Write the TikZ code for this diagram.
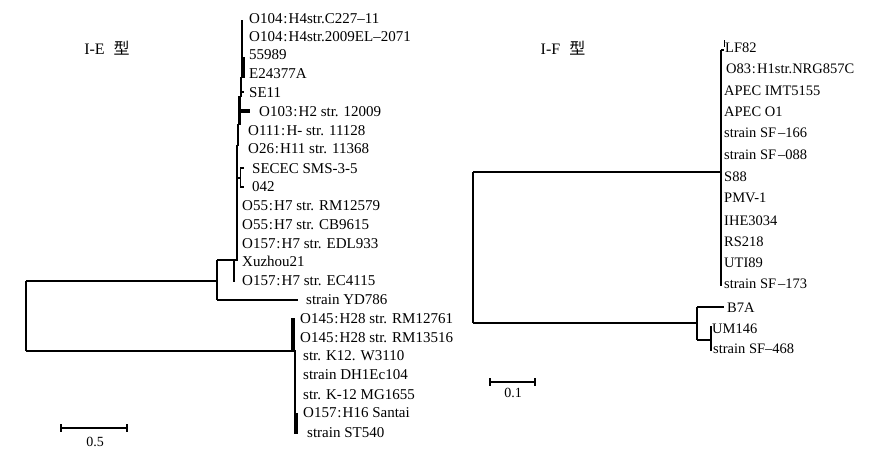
\documentclass[tikz,border=0pt]{standalone}
\usepackage{fontspec}
\setmainfont{Liberation Serif}
\newfontfamily\cjk{Noto Sans CJK SC}
\newcommand{\rcolon}{\kern0.8pt:\kern1.2pt}
\begin{document}
\begin{tikzpicture}[x=1pt,y=-1pt,
  lbl/.style={anchor=base west,inner sep=0pt,font=\fontsize{15pt}{18pt}\selectfont},
  rlbl/.style={anchor=base west,inner sep=0pt,font=\fontsize{14.5pt}{17pt}\selectfont},
  ttl/.style={anchor=center,inner sep=0pt,font=\fontsize{16pt}{19pt}\selectfont},
  sclbl/.style={anchor=center,inner sep=0pt,font=\fontsize{14pt}{17pt}\selectfont},
  thin/.style={line width=1.1pt},
  mid/.style={line width=1.6pt},
  thick/.style={line width=2.2pt},
  heavy/.style={line width=3.2pt}]
\fill[white] (0,0) rectangle (884,450);
\useasboundingbox (0,0) rectangle (884,450);

% titles
\node[ttl] (tE) at (107,48) {I-E\hspace{9pt}{\cjk 型}};
\node[ttl] (tF) at (563,48) {I-F\hspace{9pt}{\cjk 型}};

% ---------- left tree labels ----------
\node[lbl] (l1)  at (249,23)  {O104\rcolon H4str.C227–11};
\node[lbl] (l2)  at (249,41)  {O104\rcolon H4str.2009EL–2071};
\node[lbl] (l3)  at (249,59)  {55989};
\node[lbl] (l4)  at (249,78)  {E24377A};
\node[lbl] (l5)  at (249,97)  {SE11};
\node[lbl] (l6)  at (259,116) {O103\rcolon H2 str. 12009};
\node[lbl] (l7)  at (248,135) {O111\rcolon H- str. 11128};
\node[lbl] (l8)  at (248,153) {O26\rcolon H11 str. 11368};
\node[lbl] (l9)  at (252,173) {SECEC SMS-3-5};
\node[lbl] (l10) at (252,191) {042};
\node[lbl] (l11) at (242,210) {O55\rcolon H7 str. RM12579};
\node[lbl] (l12) at (242,229) {O55\rcolon H7 str. CB9615};
\node[lbl] (l13) at (242,248) {O157\rcolon H7 str. EDL933};
\node[lbl] (l14) at (242,266) {Xuzhou21};
\node[lbl] (l15) at (242,285) {O157\rcolon H7 str. EC4115};
\node[lbl] (l16) at (306,304) {strain YD786};
\node[lbl] (l17) at (300,323) {O145\rcolon H28 str. RM12761};
\node[lbl] (l18) at (300,342) {O145\rcolon H28 str. RM13516};
\node[lbl] (l19) at (303,360) {str. K12. W3110};
\node[lbl] (l20) at (303,379) {strain DH1Ec104};
\node[lbl] (l21) at (303,399) {str. K-12 MG1655};
\node[lbl] (l22) at (303,417) {O157\rcolon H16 Santai};
\node[lbl] (l23) at (307,437) {strain ST540};

% ---------- left tree branches ----------
\coordinate (rootA) at (26,281);
\coordinate (rootB) at (26,351);
\coordinate (nA) at (217,281);
\coordinate (nA1) at (217,260);
\coordinate (nA2) at (217,300);
\coordinate (yd) at (298,300);
\coordinate (nB) at (293,351);

\draw[thick] (rootA) -- (rootB);
\draw[thick] (rootA) -- (nA);
\draw[thick] (rootB) -- (nB);
\draw[mid] (nA1) -- (nA2);
\draw[mid] (nA2) -- (yd);
\draw[mid] (nA1) -- (237,260);
\draw[mid] (234,260) -- (234,282);
% column of near-zero branches
\draw[thick] (237,261) -- (237,145);
\draw[mid] (238,146) -- (238,124);
\draw[heavy] (239.5,125) -- (239.5,96);
\draw[heavy] (239,111) -- (250,111);
\draw[thin] (241,97) -- (241,77);
\draw[thin] (241,92) -- (243.5,92);
\draw[heavy] (243,78) -- (243,57);
\draw[mid] (242,58) -- (242,20);
% SECEC / 042 bracket
\draw[thin] (237,178) -- (240.5,178);
\draw[thin] (243.5,168) -- (240.5,168) -- (240.5,187) -- (243.5,187);
% lower clade
\draw[heavy] (293,318) -- (293,352);
\draw[thin] (295,350) -- (295,414);
\draw[heavy] (296,413) -- (296,434);

% left scale bar
\coordinate (sbL1) at (61,428);
\coordinate (sbL2) at (127,428);
\draw[thick] (sbL1) -- (sbL2);
\draw[mid] (61,424) -- (61,432);
\draw[mid] (127,424) -- (127,432);
\node[sclbl] (s05) at (95,441.5) {0.5};

% ---------- right tree labels ----------
\node[rlbl] (r1)  at (725,52)  {LF82};
\node[rlbl] (r2)  at (726,73)  {O83\rcolon H1str.NRG857C};
\node[rlbl] (r3)  at (724,95)  {APEC IMT5155};
\node[rlbl] (r4)  at (724,116) {APEC O1};
\node[rlbl] (r5)  at (724,137) {strain SF\kern2pt–166};
\node[rlbl] (r6)  at (724,159) {strain SF\kern2pt–088};
\node[rlbl] (r7)  at (724,181) {S88};
\node[rlbl] (r8)  at (724,202) {PMV-1};
\node[rlbl] (r9)  at (724,225) {IHE3034};
\node[rlbl] (r10) at (724,246) {RS218};
\node[rlbl] (r11) at (724,267) {UTI89};
\node[rlbl] (r12) at (724,288) {strain SF\kern2pt–173};
\node[rlbl] (r13) at (727,312) {B7A};
\node[rlbl] (r14) at (712,333) {UM146};
\node[rlbl] (r15) at (713,353) {strain SF–468};

% ---------- right tree branches ----------
\coordinate (RrA) at (473,172);
\coordinate (RrB) at (473,323);
\coordinate (RnA) at (721,172);
\coordinate (RnB) at (697,323);
\draw[thin] (RrA) -- (RrB);
\draw[thin] (RrA) -- (RnA);
\draw[thin] (RrB) -- (RnB);
\draw[thin] (721,50) -- (721,286);
\draw[thin] (721,50) -- (724,50);
\draw[thin] (724.5,40) -- (724.5,47);
\draw[thin] (697,307) -- (697,340);
\draw[thin] (697,307) -- (724,307);
\draw[thin] (697,340) -- (711,340);
\draw[thin] (711,326) -- (711,351);

% right scale bar
\coordinate (sbR1) at (490,382);
\coordinate (sbR2) at (535,382);
\draw[thin] (sbR1) -- (sbR2);
\draw[thin] (490,378) -- (490,386);
\draw[thin] (535,378) -- (535,386);
\node[sclbl] (s01) at (513,393) {0.1};
\end{tikzpicture}
\end{document}
